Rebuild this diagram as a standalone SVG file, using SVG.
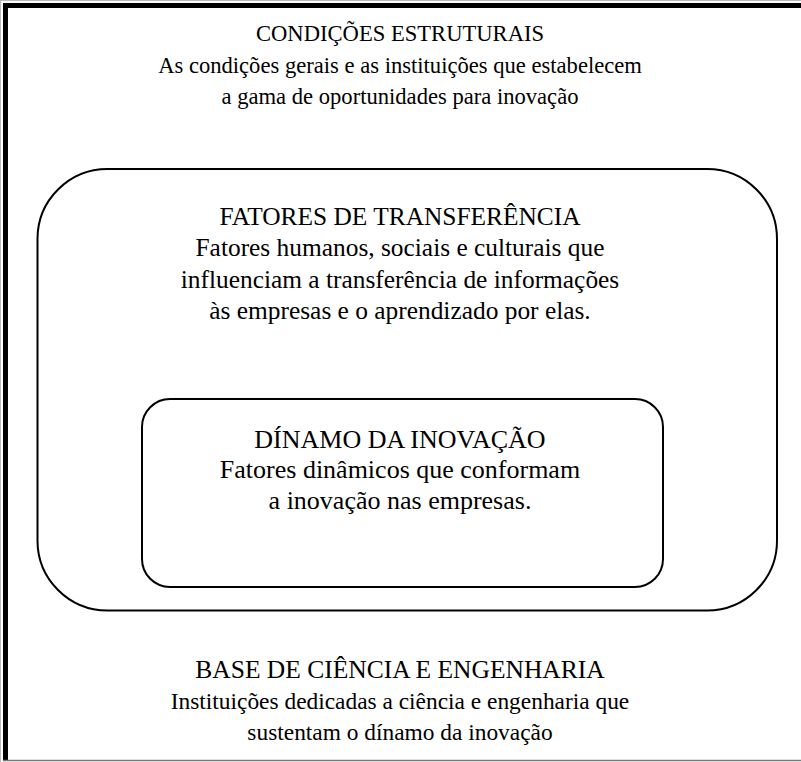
<svg xmlns="http://www.w3.org/2000/svg" width="801" height="762" viewBox="0 0 801 762">
<style>
text{font-family:"Liberation Serif","Times New Roman",serif;fill:#000;text-anchor:middle}
.b1{font-size:22.6px}
.b2{font-size:25.4px}
.b3{font-size:26px}
.b4{font-size:23.4px}
.t4{font-size:25.5px}
.box{fill:none;stroke:#000;stroke-width:2}
</style>
<rect width="801" height="762" fill="#fff"/>
<g id="frame">
<line x1="0" y1="0.5" x2="801" y2="0.5" stroke="#bbb" stroke-width="1"/>
<line x1="0.5" y1="0" x2="0.5" y2="762" stroke="#bbb" stroke-width="1"/>
<rect x="3" y="3" width="798" height="5" fill="#000"/>
<rect x="3" y="3" width="5" height="758" fill="#000"/>
<line x1="3" y1="760.5" x2="801" y2="760.5" stroke="#777" stroke-width="1.5"/>
</g>
<g id="condicoes">
<text class="b1" x="400" y="41">CONDIÇÕES ESTRUTURAIS</text>
<text class="b1" x="400" y="72.5">As condições gerais e as instituições que estabelecem</text>
<text class="b1" x="400" y="104">a gama de oportunidades para inovação</text>
</g>
<g id="fatores">
<rect class="box" x="37.5" y="169" width="739.5" height="441.5" rx="70" ry="70"/>
<text class="b2" x="400" y="225">FATORES DE TRANSFERÊNCIA</text>
<text class="b2" x="400" y="256">Fatores humanos, sociais e culturais que</text>
<text class="b2" x="400" y="287.5">influenciam a transferência de informações</text>
<text class="b2" x="400" y="319">às empresas e o aprendizado por elas.</text>
</g>
<g id="dinamo">
<rect class="box" x="142" y="399" width="521" height="188" rx="28" ry="28"/>
<text class="b3" x="400" y="448">DÍNAMO DA INOVAÇÃO</text>
<text class="b3" x="400" y="478">Fatores dinâmicos que conformam</text>
<text class="b3" x="400" y="509">a inovação nas empresas.</text>
</g>
<g id="base">
<text class="t4" x="400" y="678">BASE DE CIÊNCIA E ENGENHARIA</text>
<text class="b4" x="400" y="709">Instituições dedicadas a ciência e engenharia que</text>
<text class="b4" x="400" y="740">sustentam o dínamo da inovação</text>
</g>
<g id="connectors"/>
</svg>
